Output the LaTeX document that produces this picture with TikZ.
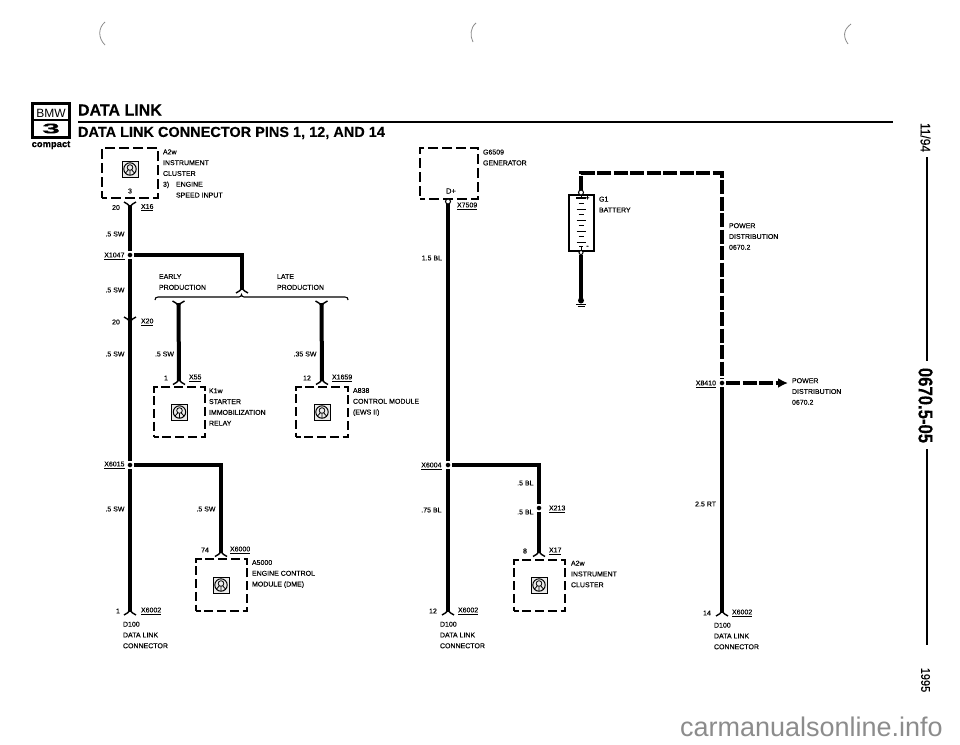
\documentclass[tikz,border=0pt]{standalone}
\usepackage{fontspec}
\setmainfont{Liberation Sans}
\newfontfamily\labf[FakeBold=0.08]{Liberation Sans}
\newfontfamily\headf[FakeBold=0.15]{Liberation Sans Bold}
\usetikzlibrary{arrows.meta,calc}
\newcommand{\xu}[1]{\underline{#1}}
\tikzset{
  wire/.style={line width=4pt,line cap=butt,line join=miter},
  dwire/.style={wire,dash pattern=on 14pt off 2.5pt},
  lab/.style={inner sep=0pt,outer sep=0pt,align=left,anchor=west,font=\labf\fontsize{7}{10.8}\selectfont},
  rlab/.style={lab,anchor=east,align=right},
  clab/.style={lab,anchor=center},
  unit/.style={draw,line width=1.5pt,dash pattern=on 9pt off 3.75pt,dash phase=4.5pt,inner sep=0pt,outer sep=0pt,rectangle},
  bigunit/.style={unit,dash pattern=on 10pt off 4pt,dash phase=5pt},
  junc/.style={circle,fill=black,draw=white,line width=1pt,minimum size=6pt,inner sep=0pt,outer sep=1pt},
  ring/.style={circle,fill=white,draw=black,line width=1pt,minimum size=5pt,inner sep=0pt,outer sep=0pt},
  pics/wingtop/.style={code={
    \draw[line width=1.4pt] (-6,-3) .. controls (-3,-1.5) and (-1,-0.5) .. (0,3)
      .. controls (1,-0.5) and (3,-1.5) .. (6,-3);}},
  pics/wingbot/.style={code={
    \draw[line width=1.4pt] (-6,3) .. controls (-3,1.5) and (-1,0.5) .. (0,-3)
      .. controls (1,0.5) and (3,1.5) .. (6,3);}},
  pics/ecu/.style={code={
    \draw[line width=1pt,fill=black!8] (-8,-8) rectangle (8,8);
    \draw[line width=1pt] (0,0) circle (6.2);
    \draw[line width=0.8pt] (0,-1.5) circle (2.8);
    \draw[line width=0.8pt] (-1.8,1) -- (-4.5,4) (1.8,1) -- (4.5,4) (0,1.3) -- (0,6);}},
}
\begin{document}
\begin{tikzpicture}[x=1pt,y=-1pt]
\useasboundingbox (0,0) rectangle (960,744);

% page marks
\draw[black!45,line width=0.8pt] (105,22) .. controls (98,28) and (98,38) .. (105,45);
\draw[black!45,line width=0.8pt] (476,23) .. controls (470,28) and (470,36) .. (473,42);
\draw[black!45,line width=0.8pt] (851,24) .. controls (843,30) and (843,37) .. (848,44);

% logo
\node[draw,line width=2.6pt,minimum width=37pt,minimum height=34pt,inner sep=0pt] (logo) at (51,120.5) {};
\draw[line width=2pt] (logo.west |- 0,120) -- (logo.east |- 0,120);
\node[inner sep=0pt,font=\fontsize{12}{12}\selectfont] (bmw) at (51,113) {BMW};
\node[inner sep=0pt,font=\headf\fontsize{14}{14}\selectfont,xscale=2.3] (three) at (51,128.5) {3};
\node[inner sep=0pt,font=\headf\fontsize{9.4}{10}\selectfont] (compact) at (51,145) {compact};

% titles
\node[lab,font=\headf\fontsize{16}{16}\selectfont] (title1) at (78,110) {DATA LINK};
\node[lab,font=\headf\fontsize{14.5}{16}\selectfont] (title2) at (78,133) {DATA LINK CONNECTOR PINS 1, 12, AND 14};
\draw[line width=1.8pt] (title1.west |- 0,122) coordinate (ruleA) -- (893,122) coordinate (ruleB);

% margin
\node[rotate=-90,inner sep=0pt,font=\labf\fontsize{12}{12}\selectfont,yscale=1.15] (date) at (925.5,137.5) {11/94};
\node[rotate=-90,inner sep=0pt,font=\headf\fontsize{16.7}{17}\selectfont,yscale=1.2] (page) at (925.5,405.5) {0670.5-05};
\node[rotate=-90,inner sep=0pt,font=\labf\fontsize{11}{12}\selectfont,yscale=1.15] (year) at (925.5,680) {1995};
\coordinate (m1) at (927,157); \coordinate (m2) at (927,361);
\coordinate (m3) at (927,449); \coordinate (m4) at (927,645);
\draw[line width=2.2pt] (m1) -- (m2);
\draw[line width=2.2pt] (m3) -- (m4);

% --- column 1 ---
\node[bigunit,minimum width=56pt,minimum height=50pt] (a2w) at (130,173) {};
\pic at (130,169) {ecu};
\node[clab] (pin3) at (130,191) {3};
\node[lab] (a2wt) at (163,173.5) {A2w\\INSTRUMENT\\CLUSTER\\\makebox[13pt][l]{3)}ENGINE\\\makebox[13pt][l]{}SPEED INPUT};
\coordinate (x16) at (130,205);
\coordinate (x20) at (130,320);
\coordinate (bot1) at (130,612);
\node[junc] (j1047) at (130,255) {};
\node[junc] (j6015) at (130,465) {};
\coordinate (c1) at (242,290);
\coordinate (c2) at (178.5,303);
\coordinate (c3) at (321.5,303);
\node[unit,minimum width=51pt,minimum height=50pt] (k1w) at (179.5,412) {};
\node[unit,minimum width=52pt,minimum height=50pt] (a838) at (322,412) {};
\node[unit,minimum width=51pt,minimum height=52pt] (a5000) at (221.5,585) {};
\coordinate (c4) at (179,381);
\coordinate (c5) at (322,381);
\coordinate (c6) at (221,553);

\draw[wire] (x16) -- (j1047);
\draw[wire] (j1047) -- (x20);
\draw[wire] (x20) -- (j6015);
\draw[wire] (j6015) -- (bot1);
\draw[wire] (j1047) -| (c1);
\draw[wire] (c2) -- (c4);
\draw[wire] (c3) -- (c5);
\draw[wire] (j6015) -| (c6);
\pic at (130,205) {wingtop};
\pic at (130,320) {wingtop};
\pic at (242,290) {wingbot};
\pic at (178.5,304) {wingtop};
\pic at (321.5,304) {wingtop};
\pic at (179,381.5) {wingbot};
\pic at (322,381.5) {wingbot};
\pic at (221,553.5) {wingbot};
\pic at (130,612) {wingbot};
\pic at (179.5,412) {ecu};
\pic at (322,412) {ecu};
\pic at (221,585) {ecu};

% brace
\draw[line width=1.1pt] (155,300) .. controls (155,298) and (156,297) .. (158,297) -- (239,297) .. controls (240.5,297) and (241,296) .. (241.5,294.5) .. controls (242,296) and (242.5,297) .. (244,297) -- (345,297) .. controls (347,297) and (348,298) .. (348,300);

\node[clab] (n20a) at (116,207.5) {20};
\node[lab] (x16t) at (141,207.5) {\xu{X16}};
\node[rlab] (s1) at (124.5,234) {.5 SW};
\node[rlab] (x1047t) at (124.5,256) {\xu{X1047}};
\node[rlab] (s2) at (124.5,290) {.5 SW};
\node[clab] (n20b) at (116,322) {20};
\node[lab] (x20t) at (141,322) {\xu{X20}};
\node[rlab] (s3) at (124.5,354) {.5 SW};
\node[rlab] (s4) at (174,354) {.5 SW};
\node[rlab] (s5) at (316.5,354) {.35 SW};
\node[lab] (early) at (159,282) {EARLY\\PRODUCTION};
\node[lab] (late) at (277,282) {LATE\\PRODUCTION};
\node[clab] (n1a) at (166,378) {1};
\node[lab] (x55t) at (189,378) {\xu{X55}};
\node[clab] (n12a) at (307,378) {12};
\node[lab] (x1659t) at (332,378) {\xu{X1659}};
\node[lab] (k1wt) at (209,407) {K1w\\STARTER\\IMMOBILIZATION\\RELAY};
\node[lab] (a838t) at (353,402) {A838\\CONTROL MODULE\\(EWS II)};
\node[rlab] (x6015t) at (124.5,465) {\xu{X6015}};
\node[rlab] (s6) at (124.5,509) {.5 SW};
\node[rlab] (s7) at (215.5,509) {.5 SW};
\node[clab] (n74) at (205,550) {74};
\node[lab] (x6000t) at (230,550) {\xu{X6000}};
\node[lab] (a5000t) at (252,574) {A5000\\ENGINE CONTROL\\MODULE (DME)};
\node[clab] (n1b) at (118,611) {1};
\node[lab] (x6002a) at (141,611) {\xu{X6002}};
\node[lab] (d100a) at (123,635) {D100\\DATA LINK\\CONNECTOR};

% --- column 2 ---
\node[bigunit,minimum width=58pt,minimum height=51pt] (g6509) at (449,173.5) {};
\node[lab] (g6509t) at (483,157.5) {G6509\\GENERATOR};
\node[clab,font=\labf\fontsize{7.5}{9}\selectfont] (dplus) at (451,191) {D+};
\node[ring] (rgen) at (448,201.5) {};
\node[lab] (x7509t) at (457,206) {\xu{X7509}};
\node[rlab] (bl15) at (442,258) {1.5 BL};
\node[junc] (j6004) at (448,465) {};
\coordinate (bot2) at (448,612);
\node[junc] (j213) at (539,508) {};
\coordinate (c7) at (539,553);
\node[unit,minimum width=51pt,minimum height=51pt] (a2wb) at (539.5,585.5) {};
\draw[wire] (rgen) -- (j6004);
\draw[wire] (j6004) -- (bot2);
\draw[wire] (j6004) -| (j213);
\draw[wire] (j213) -- (c7);
\pic at (448,612) {wingbot};
\pic at (539,553.5) {wingbot};
\pic at (539,585) {ecu};
\node[rlab] (x6004t) at (441.5,466) {\xu{X6004}};
\node[rlab] (bl5a) at (533.5,483) {.5 BL};
\node[lab] (x213t) at (549,509) {\xu{X213}};
\node[rlab] (bl5b) at (533.5,512) {.5 BL};
\node[rlab] (bl75) at (441.5,510) {.75 BL};
\node[clab] (n8) at (525,551) {8};
\node[lab] (x17t) at (549,551) {\xu{X17}};
\node[lab] (a2wbt) at (571,574) {A2w\\INSTRUMENT\\CLUSTER};
\node[clab] (n12b) at (433,611) {12};
\node[lab] (x6002b) at (458,611) {\xu{X6002}};
\node[lab] (d100b) at (440,635) {D100\\DATA LINK\\CONNECTOR};

% --- battery / power ---
\node[draw,line width=1.5pt,minimum width=25pt,minimum height=56pt,inner sep=0pt,outer sep=0pt] (batt) at (581.5,223) {};
\foreach \yy/\ww in {198/10,203.5/5,209/9,214.5/5,220/9,225.5/5,231/9,236.5/5,242/9,246.5/4}
  \draw[line width=0.9pt] ({581-\ww/2},\yy) -- ({581+\ww/2},\yy);
\draw[line width=2pt] (576,197.5) -- (586,197.5);
\draw[line width=0.9pt] (581,195) -- (581,198) (581,246.5) -- (581,251);
\node[clab,font=\headf\fontsize{6.5}{7}\selectfont] (bplus) at (587.5,198) {+};
\node[clab,font=\headf\fontsize{6.5}{7}\selectfont] (bminus) at (587.5,247) {-};
\node[ring] (rtop) at (581,192.5) {};
\node[ring,minimum size=4pt] (rbot) at (581,252.5) {};
\node[lab] (g1t) at (599,204.5) {G1\\BATTERY};
\node[circle,fill=black,minimum size=6pt,inner sep=0pt,outer sep=0pt] (gnd) at (581,300.5) {};
\draw[line width=1pt] (576,304) -- (586,304) (577.5,306.5) -- (584.5,306.5);
\draw[wire] (rbot) -- (gnd);
\coordinate (corner) at (722,173);
\node[junc] (j8410) at (722,383) {};
\coordinate (bot3) at (722,613);
\coordinate (arrowend) at (788,383);
\draw[dwire] (rtop) |- (corner) -- (j8410);
\draw[wire] (j8410) -- (bot3);
\draw[dwire,-{Latex[length=10pt,width=10pt]}] (j8410) -- (arrowend);
\pic at (722,613) {wingbot};
\node[lab] (pd1) at (729,236.5) {POWER\\DISTRIBUTION\\0670.2};
\node[rlab] (x8410t) at (716,384) {\xu{X8410}};
\node[lab] (pd2) at (792,391.5) {POWER\\DISTRIBUTION\\0670.2};
\node[rlab] (rt) at (716,504) {2.5 RT};
\node[clab] (n14) at (707,613) {14};
\node[lab] (x6002c) at (732,613) {\xu{X6002}};
\node[lab] (d100c) at (714,636) {D100\\DATA LINK\\CONNECTOR};

% watermark
\node[inner sep=0pt,anchor=east,text=black!45,font=\fontsize{27}{28}\selectfont] (wm) at (943,727) {carmanualsonline.info};
\end{tikzpicture}
\end{document}
